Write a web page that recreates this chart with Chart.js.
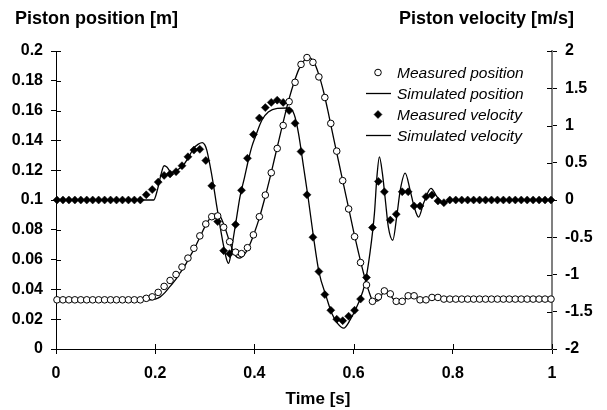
<!DOCTYPE html>
<html>
<head>
<meta charset="utf-8">
<script src="https://cdn.jsdelivr.net/npm/chart.js@4"></script>
<style>
  body { margin: 0; background: #fff; }
  canvas { display: block; }
</style>
</head>
<body>
<canvas id="pistonChart" width="607" height="410"></canvas>
<script>
const FONT = '"Liberation Sans", Arial, sans-serif';

// measured samples
const sampleTimes = [0.002, 0.014, 0.026, 0.038, 0.05, 0.062, 0.074, 0.086, 0.098, 0.11, 0.122, 0.134, 0.146, 0.158, 0.17,
    0.182, 0.194, 0.206, 0.218, 0.23, 0.242, 0.254, 0.266, 0.278, 0.29, 0.302, 0.314, 0.326, 0.338, 0.35,
    0.362, 0.374, 0.386, 0.398, 0.41, 0.422, 0.434, 0.446, 0.458, 0.47, 0.482, 0.494, 0.506, 0.518, 0.53,
    0.542, 0.554, 0.566, 0.578, 0.59, 0.602, 0.614, 0.626, 0.638, 0.65, 0.662, 0.674, 0.686, 0.698, 0.71,
    0.722, 0.734, 0.746, 0.758, 0.77, 0.782, 0.794, 0.806, 0.818, 0.83, 0.842, 0.854, 0.866, 0.878, 0.89,
    0.902, 0.914, 0.926, 0.938, 0.95, 0.962, 0.974, 0.986, 0.998];

const measuredPosition = [0.033, 0.033, 0.033, 0.033, 0.033, 0.033, 0.033, 0.033, 0.033, 0.033, 0.033, 0.033, 0.033, 0.033, 0.033,
    0.034, 0.035, 0.038, 0.042, 0.046, 0.050, 0.055, 0.061, 0.0676, 0.0759, 0.0839, 0.0888, 0.0893, 0.0817, 0.072,
    0.065, 0.064, 0.068, 0.0766, 0.0888, 0.1033, 0.1183, 0.1346, 0.150, 0.166, 0.179, 0.191, 0.1956, 0.1924, 0.1826,
    0.1688, 0.1514, 0.1328, 0.113, 0.094, 0.0754, 0.058, 0.043, 0.032, 0.035, 0.039, 0.037, 0.032, 0.032, 0.0357,
    0.0357, 0.033, 0.033, 0.0346, 0.0346, 0.0335, 0.0335, 0.0335, 0.0335, 0.0335, 0.0335, 0.0335, 0.0335, 0.0335, 0.0335,
    0.0335, 0.0335, 0.0335, 0.0335, 0.0335, 0.0335, 0.0335, 0.0335, 0.0335];

const measuredVelocity = [0, 0, 0, 0, 0, 0, 0, 0, 0, 0, 0, 0, 0, 0, 0,
    0.07, 0.14, 0.24, 0.33, 0.35, 0.38, 0.46, 0.58, 0.67, 0.68, 0.53, 0.19, -0.29, -0.68, -0.72,
    -0.33, 0.13, 0.56, 0.88, 1.10, 1.24, 1.31, 1.34, 1.31, 1.20, 1.03, 0.65, 0.07, -0.50, -0.96,
    -1.27, -1.48, -1.60, -1.62, -1.56, -1.48, -1.33, -1.04, -0.37, 0.25, 0.11, -0.27, -0.19, 0.11, 0.11,
    -0.08, -0.08, 0.045, 0.067, -0.013, -0.036, 0, 0, 0, 0, 0, 0, 0, 0, 0,
    0, 0, 0, 0, 0, 0, 0, 0, 0];

// simulated curves
const simPosTimes = [0, 0.19, 0.2, 0.21, 0.22, 0.23, 0.24, 0.25, 0.26, 0.27, 0.28, 0.29, 0.3, 0.31, 0.32, 0.33, 0.34, 0.35,
    0.36, 0.37, 0.38, 0.39, 0.4, 0.41, 0.42, 0.43, 0.44, 0.45, 0.46, 0.47, 0.48, 0.49, 0.5, 0.51, 0.52, 0.53,
    0.54, 0.55, 0.56, 0.57, 0.58, 0.59, 0.6, 0.61, 0.62, 0.63, 0.64, 0.65, 0.66, 0.67, 0.68, 0.69, 0.7, 0.71,
    0.72, 0.73, 0.74, 0.75, 0.76, 0.77, 0.78, 0.8, 1];
const simPosition = [0.033, 0.033, 0.0335, 0.035, 0.038, 0.042, 0.046, 0.051, 0.056, 0.062, 0.068, 0.075, 0.082, 0.0875, 0.0905, 0.0895, 0.082, 0.072,
    0.0635, 0.061, 0.0635, 0.0695, 0.078, 0.088, 0.1, 0.113, 0.127, 0.141, 0.155, 0.168, 0.179, 0.188, 0.1935, 0.1955, 0.1925, 0.184,
    0.172, 0.157, 0.141, 0.1255, 0.11, 0.0945, 0.079, 0.0645, 0.051, 0.0395, 0.032, 0.0325, 0.0375, 0.0375, 0.0335, 0.031, 0.032, 0.0355,
    0.0365, 0.034, 0.032, 0.0335, 0.035, 0.0345, 0.0333, 0.0335, 0.0335];

const simVelTimes = [0, 0.197, 0.205, 0.212, 0.218, 0.224, 0.232, 0.24, 0.25, 0.257, 0.267, 0.277, 0.287, 0.295, 0.3,
    0.304, 0.31, 0.317, 0.324, 0.331, 0.338, 0.344, 0.348, 0.352, 0.358, 0.365, 0.371, 0.38, 0.388, 0.395,
    0.402, 0.415, 0.428, 0.446, 0.466, 0.474, 0.482, 0.489, 0.499, 0.509, 0.519, 0.53, 0.545, 0.556, 0.568,
    0.58, 0.593, 0.61, 0.623, 0.633, 0.642, 0.647, 0.652, 0.658, 0.664, 0.67, 0.679, 0.687, 0.694, 0.704,
    0.714, 0.722, 0.731, 0.741, 0.756, 0.768, 0.778, 0.788, 0.8, 1];
const simVelocity = [0, 0, 0.15, 0.35, 0.46, 0.44, 0.37, 0.38, 0.43, 0.47, 0.57, 0.69, 0.75, 0.77, 0.74,
    0.67, 0.48, 0.22, -0.08, -0.36, -0.62, -0.8, -0.85, -0.75, -0.49, -0.2, 0.045, 0.3, 0.54, 0.72,
    0.85, 1.07, 1.18, 1.23, 1.235, 1.22, 1.11, 0.89, 0.45, 0, -0.49, -0.96, -1.3, -1.52, -1.66,
    -1.72, -1.61, -1.38, -1.12, -0.71, -0.18, 0.31, 0.58, 0.36, 0, -0.36, -0.54, -0.22, 0.13, 0.36,
    0.13, -0.09, -0.23, -0.045, 0.157, 0.045, -0.045, -0.02, 0, 0];

const legendLabels = ['Measured position', 'Simulated position', 'Measured velocity', 'Simulated velocity'];

function toPoints(xs, ys) {
    return xs.map((x, i) => ({ x: x, y: ys[i] }));
}

function trimNum(v) {
    return String(Number(v.toFixed(2)));
}

// draws the inner half of the crossing tick marks, the axis titles and the legend box
const decorPlugin = {
    id: 'decor',
    afterDraw(chart) {
        const ctx = chart.ctx;
        const area = chart.chartArea;
        const xs = chart.scales.x, yl = chart.scales.yPos, yr = chart.scales.yVel;
        ctx.save();
        ctx.strokeStyle = '#000';
        ctx.lineWidth = 1;
        ctx.beginPath();
        yl.ticks.forEach(t => {
            const y = Math.round(yl.getPixelForValue(t.value)) + 0.5;
            ctx.moveTo(area.left, y); ctx.lineTo(area.left + 5, y);
        });
        yr.ticks.forEach(t => {
            const y = Math.round(yr.getPixelForValue(t.value)) + 0.5;
            ctx.moveTo(area.right - 5, y); ctx.lineTo(area.right, y);
        });
        xs.ticks.forEach(t => {
            const x = Math.round(xs.getPixelForValue(t.value)) + 0.5;
            ctx.moveTo(x, area.bottom); ctx.lineTo(x, area.bottom - 5);
        });
        ctx.stroke();

        ctx.fillStyle = '#000';
        ctx.font = 'bold 18px ' + FONT;
        ctx.textBaseline = 'middle';
        ctx.textAlign = 'left';
        ctx.fillText('Piston position [m]', 15, 19);
        ctx.textAlign = 'right';
        ctx.fillText('Piston velocity [m/s]', 574, 19);
        ctx.font = 'bold 17px ' + FONT;
        ctx.textAlign = 'center';
        ctx.fillText('Time [s]', 318, 399);

        // legend
        ctx.font = 'italic 15.5px ' + FONT;
        ctx.textAlign = 'left';
        chart.data.datasets.forEach(ds => {
            const row = 72.5 + legendLabels.indexOf(ds.label) * 21;
            if (ds.showLine === false) {
                ctx.fillStyle = ds.pointBackgroundColor;
                ctx.strokeStyle = ds.pointBorderColor;
                ctx.lineWidth = ds.pointBorderWidth;
                Chart.helpers.drawPoint(ctx, {
                    pointStyle: ds.pointStyle, radius: ds.pointRadius,
                    borderWidth: ds.pointBorderWidth, rotation: 0
                }, 378, row);
            } else {
                ctx.strokeStyle = ds.borderColor;
                ctx.lineWidth = ds.borderWidth;
                ctx.beginPath();
                ctx.moveTo(366, row); ctx.lineTo(391, row);
                ctx.stroke();
            }
            ctx.fillStyle = '#000';
            ctx.fillText(ds.label, 397, row + 1);
        });
        ctx.restore();
    }
};

const ctx = document.getElementById('pistonChart').getContext('2d');
const pistonChart = new Chart(ctx, {
    type: 'line',
    data: {
        datasets: [
            {
                label: 'Measured position', yAxisID: 'yPos', showLine: false, clip: false,
                data: toPoints(sampleTimes, measuredPosition),
                pointStyle: 'circle', pointRadius: 3.3, pointBorderWidth: 1,
                pointBackgroundColor: '#fff', pointBorderColor: '#000'
            },
            {
                label: 'Measured velocity', yAxisID: 'yVel', showLine: false, clip: false,
                data: toPoints(sampleTimes, measuredVelocity),
                pointStyle: 'rectRot', pointRadius: 4, pointBorderWidth: 0.5,
                pointBackgroundColor: '#000', pointBorderColor: '#000'
            },
            {
                label: 'Simulated position', yAxisID: 'yPos',
                data: toPoints(simPosTimes, simPosition),
                borderColor: '#000', borderWidth: 1.3, pointRadius: 0,
                cubicInterpolationMode: 'monotone'
            },
            {
                label: 'Simulated velocity', yAxisID: 'yVel',
                data: toPoints(simVelTimes, simVelocity),
                borderColor: '#000', borderWidth: 1.3, pointRadius: 0,
                cubicInterpolationMode: 'monotone'
            }
        ]
    },
    options: {
        responsive: false,
        animation: false,
        devicePixelRatio: 1,
        layout: { padding: { top: 51, left: 0, right: 0, bottom: 0 } },
        plugins: { legend: { display: false }, tooltip: { enabled: false } },
        scales: {
            x: {
                type: 'linear', min: 0, max: 1,
                afterFit: s => { s.height = 61; },
                ticks: { stepSize: 0.2, padding: 10, color: '#000', font: { family: FONT, size: 16, weight: 'bold' }, callback: trimNum },
                grid: { drawOnChartArea: false, drawTicks: true, tickLength: 5, color: '#000' },
                border: { display: true, color: '#000', width: 1 }
            },
            yPos: {
                type: 'linear', position: 'left', min: 0, max: 0.2,
                afterFit: s => { s.width = 56; },
                ticks: { stepSize: 0.02, padding: 8, color: '#000', font: { family: FONT, size: 16, weight: 'bold' }, callback: trimNum },
                grid: { drawOnChartArea: false, drawTicks: true, tickLength: 5, color: '#000' },
                border: { display: true, color: '#000', width: 1 }
            },
            yVel: {
                type: 'linear', position: 'right', min: -2, max: 2,
                afterFit: s => { s.width = 55; },
                ticks: { stepSize: 0.5, padding: 8, color: '#000', font: { family: FONT, size: 16, weight: 'bold' }, callback: trimNum },
                grid: { drawOnChartArea: false, drawTicks: true, tickLength: 5, color: '#000' },
                border: { display: true, color: '#808080', width: 2 }
            }
        }
    },
    plugins: [decorPlugin]
});
</script>
</body>
</html>
